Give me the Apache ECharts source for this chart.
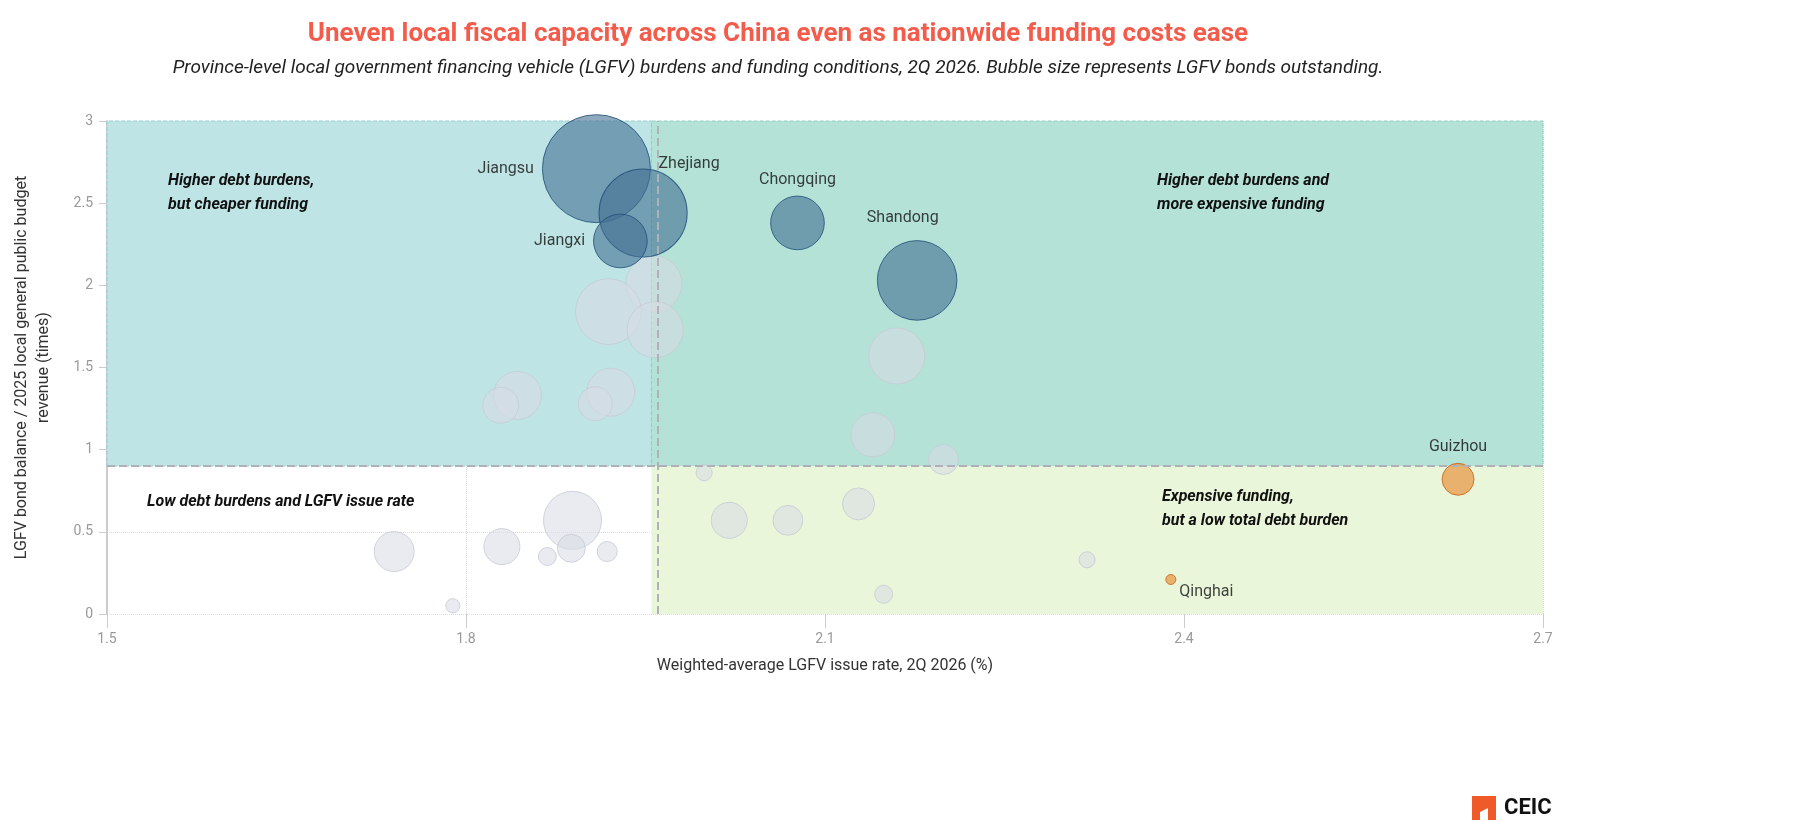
<!DOCTYPE html>
<html><head><meta charset="utf-8">
<script src="https://cdn.jsdelivr.net/npm/echarts@6/dist/echarts.min.js"></script>
<style>html,body{margin:0;background:#fff}#c{width:1812px;height:837px}</style>
</head><body><div id="c"></div>
<script>
// [issue rate %, bond balance / revenue (times), LGFV bonds outstanding, name]
const highlighted = [
  [1.909, 2.71, 81, 'Jiangsu'],
  [1.948, 2.44, 54, 'Zhejiang'],
  [1.929, 2.27, 20, 'Jiangxi'],
  [2.077, 2.38, 20, 'Chongqing'],
  [2.177, 2.03, 44, 'Shandong']
];
const lowBurden = [
  [2.629, 0.82, 7.1, 'Guizhou'],
  [2.389, 0.21, 0.7, 'Qinghai']
];
const others = [
  [1.957, 2.01, 21.8], [1.919, 1.84, 30], [1.958, 1.73, 21.8], [2.16, 1.57, 21.8],
  [1.843, 1.33, 16], [1.921, 1.35, 16], [1.829, 1.27, 9], [1.908, 1.28, 8],
  [2.14, 1.09, 13.4], [2.199, 0.94, 6.2], [1.999, 0.86, 1.8], [1.889, 0.57, 23.4],
  [2.02, 0.57, 9], [2.069, 0.57, 6.2], [2.128, 0.67, 7.1], [1.74, 0.38, 11.1],
  [1.83, 0.41, 9], [1.888, 0.40, 5.4], [1.868, 0.35, 2.25], [1.918, 0.38, 2.8],
  [1.789, 0.05, 1.4], [2.319, 0.33, 1.8], [2.149, 0.12, 2.25]
];
const splitX = 1.955, splitY = 0.9;
const labelPos = {Jiangsu:'left', Zhejiang:[60,-12], Jiangxi:'left', Chongqing:'top', Shandong:[-10,-30], Guizhou:'top', Qinghai:[14,10]};

const size = d => Math.sqrt(d[2]) * 12;
const chart = echarts.init(document.getElementById('c'));
const txt = {fontFamily:'Roboto', fontSize:16, fill:'#111', fontStyle:'italic', fontWeight:'bold', lineHeight:24};
const note = (text, left, top) => ({type:'text', left, top, z:100, style:Object.assign({text}, txt)});
chart.setOption({
  title: {
    text: 'Uneven local fiscal capacity across China even as nationwide funding costs ease',
    subtext: 'Province-level local government financing vehicle (LGFV) burdens and funding conditions, 2Q 2026. Bubble size represents LGFV bonds outstanding.',
    left: 773, textAlign: 'center', top: 16, itemGap: 12,
    textStyle: {fontFamily:'Roboto', fontSize:26, fontWeight:'bold', color:'#f35b4b'},
    subtextStyle: {fontFamily:'Roboto', fontSize:19, fontStyle:'italic', color:'#222'}
  },
  grid: {left:107, right:269, top:121, bottom:223},
  xAxis: {
    type:'value', min:1.5, max:2.7, interval:0.3,
    name:'Weighted-average LGFV issue rate, 2Q 2026 (%)', nameLocation:'middle', nameGap:44,
    nameTextStyle:{fontFamily:'Roboto', fontSize:16, color:'#333'},
    axisLine:{show:false}, axisTick:{show:true, length:14, lineStyle:{color:'#ccc'}},
    axisLabel:{fontFamily:'Roboto', fontSize:14, color:'#999', margin:18},
    splitLine:{lineStyle:{type:'dotted', color:'#ddd'}}
  },
  yAxis: {
    type:'value', min:0, max:3, interval:0.5,
    name:'LGFV bond balance / 2025 local general public budget\nrevenue (times)', nameLocation:'middle', nameGap:52,
    nameTextStyle:{fontFamily:'Roboto', fontSize:16, color:'#333', lineHeight:22},
    axisLine:{show:true, lineStyle:{color:'#ccc', width:2}}, axisTick:{show:true, length:8, lineStyle:{color:'#ccc'}},
    axisLabel:{fontFamily:'Roboto', fontSize:14, color:'#999', margin:14},
    splitLine:{lineStyle:{type:'dotted', color:'#ddd'}}
  },
  graphic: [
    note('Higher debt burdens,\nbut cheaper funding', 168, 169),
    note('Higher debt burdens and\nmore expensive funding', 1157, 169),
    note('Low debt burdens and LGFV issue rate', 147, 490),
    note('Expensive funding,\nbut a low total debt burden', 1162, 485),
    {type:'rect', left:1472, top:796, z:100, shape:{width:8,height:24}, style:{fill:'#f05a28'}},
    {type:'rect', left:1488, top:796, z:100, shape:{width:8,height:24}, style:{fill:'#f05a28'}},
    {type:'polygon', z:100, shape:{points:[[1480,796],[1488,796],[1488,808],[1480,812]]}, style:{fill:'#f05a28'}},
    {type:'text', left:1504, top:797, z:100, style:{text:'CEIC', fontFamily:'Roboto', fontWeight:'bold', fontSize:22, fill:'#111'}}
  ],
  series: [
    {
      type:'scatter', data:[], silent:true,
      markArea: {silent:true, data:[
        [{coord:[1.5,splitY], itemStyle:{color:'#bfe4e6', borderColor:'#8fd0d4', borderType:'dashed', borderWidth:1}}, {coord:[splitX,3]}],
        [{coord:[splitX,splitY], itemStyle:{color:'#b5e2d6', borderColor:'#8fd0c0', borderType:'dashed', borderWidth:1}}, {coord:[2.7,3]}],
        [{coord:[splitX,0], itemStyle:{color:'#e9f6da'}}, {coord:[2.7,splitY]}]
      ]},
      markLine: {silent:true, symbol:'none', label:{show:false},
        lineStyle:{type:'dashed', color:'#b0b0b8', width:2},
        data:[{xAxis:splitX}, {yAxis:splitY}]}
    },
    {
      type:'scatter', data:others, symbolSize:size, z:3,
      itemStyle:{color:'rgba(215,220,228,0.7)', borderColor:'#c5cad4', borderWidth:1}
    },
    {
      type:'scatter', symbolSize:size, z:4,
      data: highlighted.map(d => ({value:d, label:{position:labelPos[d[3]], distance:8}})),
      itemStyle:{color:'rgba(66,112,145,0.75)', borderColor:'#1f4e79', borderWidth:1},
      label:{show:true, formatter:p=>p.value[3], fontFamily:'Roboto', fontSize:16, color:'#111'}
    },
    {
      type:'scatter', symbolSize:size, z:4,
      data: lowBurden.map(d => ({value:d, label:{position:labelPos[d[3]], distance:8}})),
      itemStyle:{color:'rgba(232,145,58,0.85)', borderColor:'#c8600f', borderWidth:1},
      label:{show:true, formatter:p=>p.value[3], fontFamily:'Roboto', fontSize:16, color:'#111'}
    }
  ]
});
</script></body></html>
